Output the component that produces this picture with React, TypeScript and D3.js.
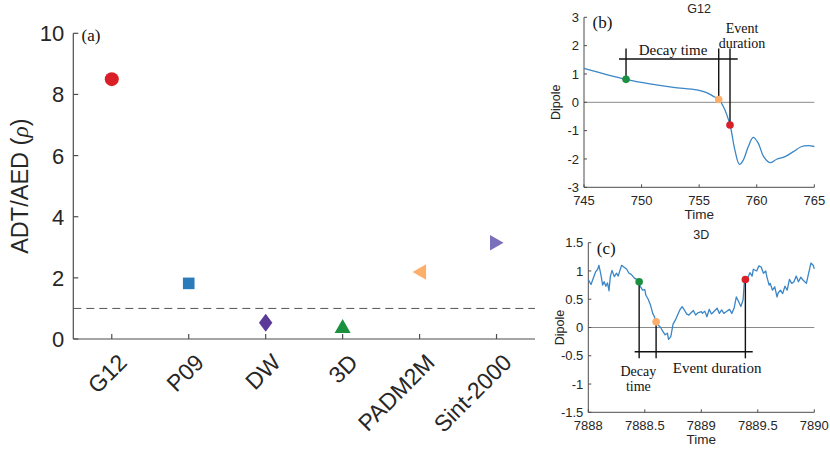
import * as d3 from 'd3';

// panel (a): ADT/AED ratio per model
const models = ['G12', 'P09', 'DW', '3D', 'PADM2M', 'Sint-2000'];
const rho = [8.5, 1.82, 0.53, 0.41, 2.19, 3.15];
const markerColors = ['#db1f26', '#2b7bba', '#5b3a98', '#1b9140', '#fdae6b', '#7a70bb'];
const markerShapes = ['circle', 'square', 'diamond', 'triUp', 'triLeft', 'triRight'];
const rhoTicks = [0, 2, 4, 6, 8, 10];
const rhoThreshold = 1;

// panel (b): G12 dipole around an event
const g12Time = [745, 748.65, 750.73, 752.76, 754.8, 755.65, 756.2, 756.7, 757.1, 757.68, 758.1, 758.5, 758.83,
  759.27, 759.7, 760.14, 760.6, 761.15, 761.73, 762.45, 763.18, 763.9, 764.48, 765];
const g12Dipole = [1.2, 0.81, 0.65, 0.53, 0.44, 0.34, 0.22, 0.1, -0.15, -0.8, -1.68, -2.19, -2.04,
  -1.56, -1.24, -1.45, -1.92, -2.13, -2.01, -1.92, -1.74, -1.56, -1.53, -1.56];
const g12EventTime = [748.65, 756.7, 757.68];
const g12EventDipole = [0.81, 0.1, -0.8];
const g12XTicks = [745, 750, 755, 760, 765];
const g12YTicks = [-3, -2, -1, 0, 1, 2, 3];

// panel (c): 3D dipole around an event
const d3Time = [7888.0, 7888.024, 7888.044, 7888.065, 7888.083, 7888.094, 7888.112, 7888.127, 7888.14, 7888.156,
  7888.17, 7888.183, 7888.195, 7888.21, 7888.23, 7888.25, 7888.265, 7888.28, 7888.295, 7888.32, 7888.34,
  7888.36, 7888.38, 7888.41, 7888.43, 7888.45, 7888.46, 7888.48, 7888.5, 7888.51, 7888.53, 7888.55, 7888.57,
  7888.585, 7888.6, 7888.62, 7888.64, 7888.66, 7888.68, 7888.7, 7888.71, 7888.73, 7888.75, 7888.77, 7888.79,
  7888.81, 7888.83, 7888.85, 7888.87, 7888.89, 7888.91, 7888.93, 7888.95, 7888.97, 7889.0, 7889.01, 7889.03,
  7889.05, 7889.07, 7889.09, 7889.11, 7889.14, 7889.16, 7889.18, 7889.2, 7889.22, 7889.25, 7889.27, 7889.29,
  7889.31, 7889.33, 7889.35, 7889.37, 7889.38, 7889.39, 7889.41, 7889.43, 7889.45, 7889.46, 7889.49, 7889.51,
  7889.53, 7889.55, 7889.57, 7889.58, 7889.6, 7889.61, 7889.63, 7889.65, 7889.67, 7889.68, 7889.7, 7889.72,
  7889.74, 7889.76, 7889.78, 7889.8, 7889.82, 7889.84, 7889.86, 7889.88, 7889.9, 7889.93, 7889.95, 7889.97,
  7889.99, 7890.0];
const d3Dipole = [0.85, 0.76, 0.87, 0.985, 1.03, 1.1, 0.93, 0.75, 0.81, 0.73,
  0.79, 0.65, 0.9, 1.01, 0.9, 0.96, 0.91, 1.01, 1.1, 1.06, 1.03,
  0.96, 0.94, 0.87, 0.85, 0.81, 0.73, 0.66, 0.67, 0.57, 0.5, 0.4, 0.25,
  0.19, 0.1, 0.04, 0.0, -0.07, -0.13, -0.1, -0.21, -0.16, 0.06, 0.13, 0.22,
  0.31, 0.37, 0.31, 0.24, 0.22, 0.26, 0.3, 0.22, 0.26, 0.28, 0.25, 0.29,
  0.19, 0.32, 0.24, 0.28, 0.34, 0.25, 0.31, 0.25, 0.28, 0.32, 0.25, 0.34,
  0.54, 0.46, 0.37, 0.49, 0.78, 0.85, 0.87, 0.97, 0.91, 1.03, 1.0, 1.09,
  1.07, 0.96, 1.0, 0.9, 0.75, 0.78, 0.66, 0.72, 0.54, 0.61, 0.66, 0.6,
  0.73, 0.66, 0.85, 0.78, 0.81, 0.91, 0.81, 0.89, 0.84, 0.78, 0.96, 1.14,
  1.1, 1.04];
const d3EventTime = [7888.45, 7888.6, 7889.39];
const d3EventDipole = [0.81, 0.1, 0.85];
const d3XTicks = [7888, 7888.5, 7889, 7889.5, 7890];
const d3YTicks = [-1.5, -1, -0.5, 0, 0.5, 1, 1.5];

const eventColors = ['#1b9140', '#fdae6b', '#db1f26'];

const SANS = 'Liberation Sans, Arial, Helvetica, sans-serif';
const SERIF = 'Liberation Serif, Times New Roman, serif';
const AXIS = '#4d4d4d';
const TXT = '#262626';
const LINE = '#3a86c6';

function markerPath(shape: string, cx: number, cy: number) {
  switch (shape) {
    case 'square':
      return `M${cx - 5.8},${cy - 5.8}h11.6v11.6h-11.6Z`;
    case 'diamond':
      return `M${cx},${cy - 9}L${cx + 6.7},${cy}L${cx},${cy + 9}L${cx - 6.7},${cy}Z`;
    case 'triUp':
      return `M${cx},${cy - 7.5}L${cx + 8},${cy + 6.5}L${cx - 8},${cy + 6.5}Z`;
    case 'triLeft':
      return `M${cx - 7},${cy}L${cx + 6.5},${cy - 7.8}L${cx + 6.5},${cy + 7.8}Z`;
    case 'triRight':
      return `M${cx + 7},${cy}L${cx - 6.5},${cy - 7.8}L${cx - 6.5},${cy + 7.8}Z`;
    default:
      return '';
  }
}

function PanelA() {
  const x = d3.scalePoint<string>().domain(models).range([73.3, 535]).padding(0.5);
  const y = d3.scaleLinear().domain([0, 10]).range([339, 33.3]);
  const [x0, x1] = x.range();
  return (
    <g>
      {/* threshold */}
      <line x1={x0} x2={x1} y1={y(rhoThreshold)} y2={y(rhoThreshold)} stroke="#555" strokeWidth={1} strokeDasharray="8,5" />
      {/* axes */}
      <line x1={x0} x2={x0} y1={y(0)} y2={y(10)} stroke={AXIS} strokeWidth={1.2} />
      <line x1={x0} x2={x1} y1={y(0)} y2={y(0)} stroke={AXIS} strokeWidth={1.2} />
      {rhoTicks.map((t) => (
        <g key={t}>
          <line x1={x0} x2={x0 + 5} y1={y(t)} y2={y(t)} stroke={AXIS} strokeWidth={1.2} />
          <text x={x0 - 9} y={y(t)} dy="0.36em" textAnchor="end" fontSize={22} fontFamily={SANS} fill={TXT}>{t}</text>
        </g>
      ))}
      {models.map((m) => (
        <g key={m}>
          <line x1={x(m)} x2={x(m)} y1={y(0)} y2={y(0) - 5} stroke={AXIS} strokeWidth={1.2} />
          <text transform={`translate(${(x(m) as number) + 16.5},364) rotate(-45)`} textAnchor="end"
            fontSize={23} fontFamily={SANS} fill={TXT}>{m}</text>
        </g>
      ))}
      <text transform={`translate(28,${y(5)}) rotate(-90)`} textAnchor="middle" fontSize={23.5} fontFamily={SANS} fill={TXT}>
        ADT/AED (<tspan fontFamily={SERIF} fontStyle="italic">ρ</tspan>)
      </text>
      <text x={81.5} y={40.5} fontSize={17} fontFamily={SERIF} fill="#111">(a)</text>
      {models.map((m, i) =>
        markerShapes[i] === 'circle' ? (
          <circle key={m} cx={x(m)} cy={y(rho[i])} r={7} fill={markerColors[i]} />
        ) : (
          <path key={m} d={markerPath(markerShapes[i], x(m) as number, y(rho[i]))} fill={markerColors[i]} />
        )
      )}
    </g>
  );
}

type SeriesProps = {
  title: string;
  label: string;
  time: number[];
  dipole: number[];
  xDomain: [number, number];
  yDomain: [number, number];
  xRange: [number, number];
  yRange: [number, number];
  xTicks: number[];
  yTicks: number[];
  smooth: boolean;
  children: (x: d3.ScaleLinear<number, number>, y: d3.ScaleLinear<number, number>) => React.ReactNode;
};

function SeriesPanel(p: SeriesProps) {
  const x = d3.scaleLinear().domain(p.xDomain).range(p.xRange);
  const y = d3.scaleLinear().domain(p.yDomain).range(p.yRange);
  const pts = p.time.map((t, i) => [t, p.dipole[i]] as [number, number]);
  const line = d3.line<[number, number]>()
    .x((d) => x(d[0]))
    .y((d) => y(d[1]))
    .curve(p.smooth ? d3.curveCatmullRom.alpha(0.5) : d3.curveLinear);
  const [x0, x1] = p.xRange;
  const [yb, yt] = p.yRange;
  const midX = (x0 + x1) / 2;
  return (
    <g>
      <line x1={x0} x2={x1} y1={y(0)} y2={y(0)} stroke="#8a8a8a" strokeWidth={1} />
      <line x1={x0} x2={x0} y1={yb} y2={yt} stroke={AXIS} strokeWidth={1} />
      <line x1={x0} x2={x1} y1={yb} y2={yb} stroke={AXIS} strokeWidth={1} />
      {p.yTicks.map((t) => (
        <g key={t}>
          <line x1={x0} x2={x0 + 3} y1={y(t)} y2={y(t)} stroke={AXIS} />
          <text x={x0 - 5} y={y(t)} dy="0.36em" textAnchor="end" fontSize={13} fontFamily={SANS} fill={TXT}>{t}</text>
        </g>
      ))}
      {p.xTicks.map((t) => (
        <g key={t}>
          <line x1={x(t)} x2={x(t)} y1={yb} y2={yb - 3} stroke={AXIS} />
          <text x={x(t)} y={yb + 18} textAnchor="middle" fontSize={13} fontFamily={SANS} fill={TXT}>{t}</text>
        </g>
      ))}
      <text x={midX} y={yb + 32} textAnchor="middle" fontSize={13.5} fontFamily={SANS} fill={TXT}>Time</text>
      <text transform={`translate(${x0 - 24},${(yb + yt) / 2}) rotate(-90)`} textAnchor="middle" fontSize={12.5}
        fontFamily={SANS} fill={TXT}>Dipole</text>
      <text x={midX} y={yt - 4} textAnchor="middle" fontSize={12.5} fontFamily={SANS} fill={TXT}>{p.title}</text>
      <text x={x0 + 8.5} y={yt + 11} fontSize={17} fontFamily={SERIF} fill="#111">{p.label}</text>
      <path d={line(pts) ?? ''} fill="none" stroke={LINE} strokeWidth={1.3} strokeLinejoin="round" />
      {p.children(x, y)}
    </g>
  );
}

export default function App() {
  return (
    <svg width={830} height={451} style={{ position: 'absolute', left: 0, top: 0, background: '#fff' }}>
      <rect width={830} height={451} fill="#fff" />
      <PanelA />
      <SeriesPanel title="G12" label="(b)" time={g12Time} dipole={g12Dipole} xDomain={[745, 765]} yDomain={[-3, 3]}
        xRange={[584, 814.3]} yRange={[187.3, 17.3]} xTicks={g12XTicks} yTicks={g12YTicks} smooth={true}>
        {(x, y) => (
          <g>
            <line x1={x(748.04)} x2={x(758.35)} y1={y(1.53)} y2={y(1.53)} stroke="#111" strokeWidth={1.4} />
            {g12EventTime.map((t, i) => (
              <line key={t} x1={x(t)} x2={x(t)} y1={y(1.9)} y2={y(g12EventDipole[i])} stroke="#111" strokeWidth={1.4} />
            ))}
            <text x={x(752.73)} y={y(1.67)} textAnchor="middle" fontSize={15} fontFamily={SERIF} fill="#111">Decay time</text>
            <text x={x(758.72)} y={y(2.46)} textAnchor="middle" fontSize={14} fontFamily={SERIF} fill="#111">Event</text>
            <text x={x(758.72)} y={y(1.93)} textAnchor="middle" fontSize={14} fontFamily={SERIF} fill="#111">duration</text>
            {g12EventTime.map((t, i) => (
              <circle key={t} cx={x(t)} cy={y(g12EventDipole[i])} r={3.8} fill={eventColors[i]} />
            ))}
          </g>
        )}
      </SeriesPanel>
      <SeriesPanel title="3D" label="(c)" time={d3Time} dipole={d3Dipole} xDomain={[7888, 7890]} yDomain={[-1.5, 1.5]}
        xRange={[588.3, 814.3]} yRange={[412.3, 242.7]} xTicks={d3XTicks} yTicks={d3YTicks} smooth={false}>
        {(x, y) => (
          <g>
            <line x1={x(7888.41)} x2={x(7889.455)} y1={y(-0.43)} y2={y(-0.43)} stroke="#111" strokeWidth={1.4} />
            {d3EventTime.map((t, i) => (
              <line key={t} x1={x(t)} x2={x(t)} y1={y(-0.545)} y2={y(d3EventDipole[i])} stroke="#111" strokeWidth={1.4} />
            ))}
            <text x={x(7888.443)} y={y(-0.85)} textAnchor="middle" fontSize={14} fontFamily={SERIF} fill="#111">Decay</text>
            <text x={x(7888.443)} y={y(-1.125)} textAnchor="middle" fontSize={14} fontFamily={SERIF} fill="#111">time</text>
            <text x={x(7889.14)} y={y(-0.81)} textAnchor="middle" fontSize={15} fontFamily={SERIF} fill="#111">Event duration</text>
            {d3EventTime.map((t, i) => (
              <circle key={t} cx={x(t)} cy={y(d3EventDipole[i])} r={3.8} fill={eventColors[i]} />
            ))}
          </g>
        )}
      </SeriesPanel>
    </svg>
  );
}
